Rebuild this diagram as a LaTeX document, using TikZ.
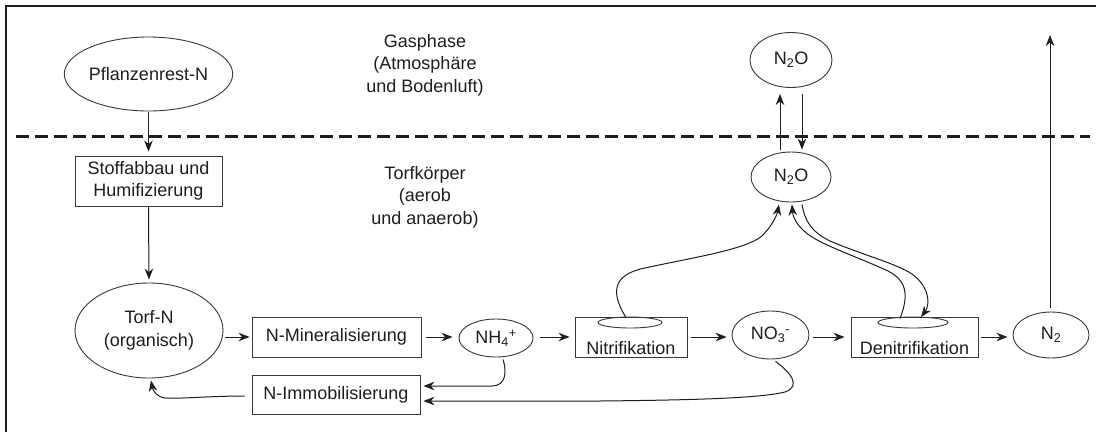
\documentclass[tikz,border=0pt]{standalone}
\usepackage{fontspec}
\setmainfont{Liberation Sans}
\usetikzlibrary{shapes.geometric,arrows.meta,calc}
\definecolor{ink}{HTML}{1E1E1E}
\definecolor{edge}{HTML}{383838}
\begin{document}
\begin{tikzpicture}[x=1pt,y=-1pt,
  font=\fontsize{18}{22.5}\selectfont,
  every node/.style={text=ink},
  line width=1pt, draw=ink,
  arr/.style={draw=ink,line width=1pt,-{Stealth[length=11pt,width=8.5pt,inset=3.5pt]}},
  ell/.style={draw=edge,line width=0.9pt,ellipse,inner sep=0pt,align=center},
  boxn/.style={draw=edge,line width=0.9pt,rectangle,inner sep=0pt,align=center},
  lbl/.style={align=center,inner sep=0pt},
]
\useasboundingbox (0,0) rectangle (1096,432);
\fill[white] (0,0) rectangle (1096,432);
% frame and phase boundary
\draw[line width=1.4pt] (6,432) -- (6,6) -- (1096,6);
\draw[line width=3pt, dash pattern=on 12.5pt off 6.5pt] (16,136) -- (1090,136);

% nodes
\node[ell,minimum width=149pt,minimum height=74pt] (pfl) at (148.5,74) {Pflanzenrest-N};
\node[boxn,minimum width=147pt,minimum height=50pt] (stoff) at (148.5,181) {Stoffabbau und\\Humifizierung};
\node[ell,minimum width=148pt,minimum height=95pt] (torf) at (149,330.5) {Torf-N\\(organisch)};
\node[boxn,minimum width=169pt,minimum height=40pt] (nmin) at (336.5,337) {N-Mineralisierung};
\node[boxn,minimum width=168pt,minimum height=39pt] (nimm) at (336,394.5) {N-Immobilisierung};
\node[ell,minimum width=74pt,minimum height=38pt] (nh4) at (496,338) {NH\textsubscript{4}\textsuperscript{+}};
\node[boxn,minimum width=112pt,minimum height=40pt] (nit) at (631,337) {};
\node[lbl] (nittxt) at (631,348) {Nitrifikation};
\node[ell,minimum width=64pt,minimum height=11pt] (nitE) at (630,322.5) {};
\node[ell,minimum width=77pt,minimum height=48pt] (no3) at (770.5,335) {NO\textsubscript{3}\textsuperscript{-}};
\node[boxn,minimum width=127pt,minimum height=40pt] (den) at (914.5,337) {};
\node[lbl] (dentxt) at (914.5,348) {Denitrifikation};
\node[ell,minimum width=70pt,minimum height=11pt] (denE) at (913,322.5) {};
\node[ell,minimum width=76pt,minimum height=46pt] (n2) at (1051,335) {N\textsubscript{2}};
\node[ell,minimum width=80pt,minimum height=50pt] (n2oL) at (791,177) {N\textsubscript{2}O};
\node[ell,minimum width=82pt,minimum height=55pt] (n2oU) at (791,60) {N\textsubscript{2}O};
\node[lbl] (gas) at (425,65) {Gasphase\\(Atmosphäre\\und Bodenluft)};
\node[lbl] (torfk) at (425,197) {Torfkörper\\(aerob\\und anaerob)};
\coordinate (n2top) at (1050,35);

% vertical flows
\draw[arr,shorten <=1pt,shorten >=4pt] (pfl.south) -- (stoff.north);
\draw[arr,shorten >=3pt] (stoff.south) -- (torf.north);

% main row
\draw[arr,shorten <=2pt,shorten >=2pt] (torf.east |- nmin.west) -- (nmin.west);
\draw[arr,shorten <=5pt,shorten >=6pt] (nmin.east) -- (nmin.east -| nh4.west);
\draw[arr,shorten <=7pt,shorten >=5pt] (nh4.east |- nit.west) -- (nit.west);
\draw[arr,shorten <=4pt,shorten >=5pt] (nit.east) -- (nit.east -| no3.west);
\draw[arr,shorten <=4pt,shorten >=6pt] (no3.east |- den.west) -- (den.west);
\draw[arr,shorten <=3pt,shorten >=5pt] (den.east) -- (den.east -| n2.west);

% N2 escape
\draw[arr] ($(n2.north)+(-1,-4)$) -- (n2top);

% N2O exchange
\draw[arr] ($(n2oL.north)+(-11,-2)$) -- ($(n2oU.south)+(-11,6)$);
\draw[arr] ($(n2oU.south)+(11,6)$) -- ($(n2oL.north)+(11,-2)$);

% nitrification -> N2O
\draw[arr] ($(nitE.north)+(-4,1)$) .. controls (612,295) and (610,275) .. (645,268)
  .. controls (690,258) and (745,250) .. (762,236)
  .. controls (772,226) and (777,215) .. ($(n2oL.south)+(-12,2)$);
% denitrification -> N2O
\draw[arr] ($(denE.north)+(-13,2)$) .. controls (907,300) and (910,282) .. (888,271)
  .. controls (860,258) and (830,248) .. (812,237)
  .. controls (798,228) and (793,218) .. ($(n2oL.south)+(1,2)$);
% N2O -> denitrification
\draw[arr] ($(n2oL.south)+(11,2)$) .. controls (805,222) and (812,232) .. (830,241)
  .. controls (860,254) and (895,263) .. (912,274)
  .. controls (930,287) and (930,305) .. ($(denE.north)+(8,0.5)$);

% immobilisation loop
\draw[arr] ($(nh4.south)+(7,2)$) .. controls +(4,12) and +(14,0) .. (492,386)
  -- ($(nimm.east)+(3,-8.5)$);
\draw[arr] ($(no3.south)+(5,2)$) .. controls (790,372) and (802,386) .. (785,392)
  .. controls (760,398) and (700,400) .. (600,401) -- ($(nimm.east)+(3,6.5)$);
\draw[arr] ($(nimm.west)+(-7,1.5)$) .. controls (210,396) and (180,399) .. (165,398)
  .. controls (157,397) and (153,391) .. ($(torf.south)+(2,2)$);
\end{tikzpicture}
\end{document}
